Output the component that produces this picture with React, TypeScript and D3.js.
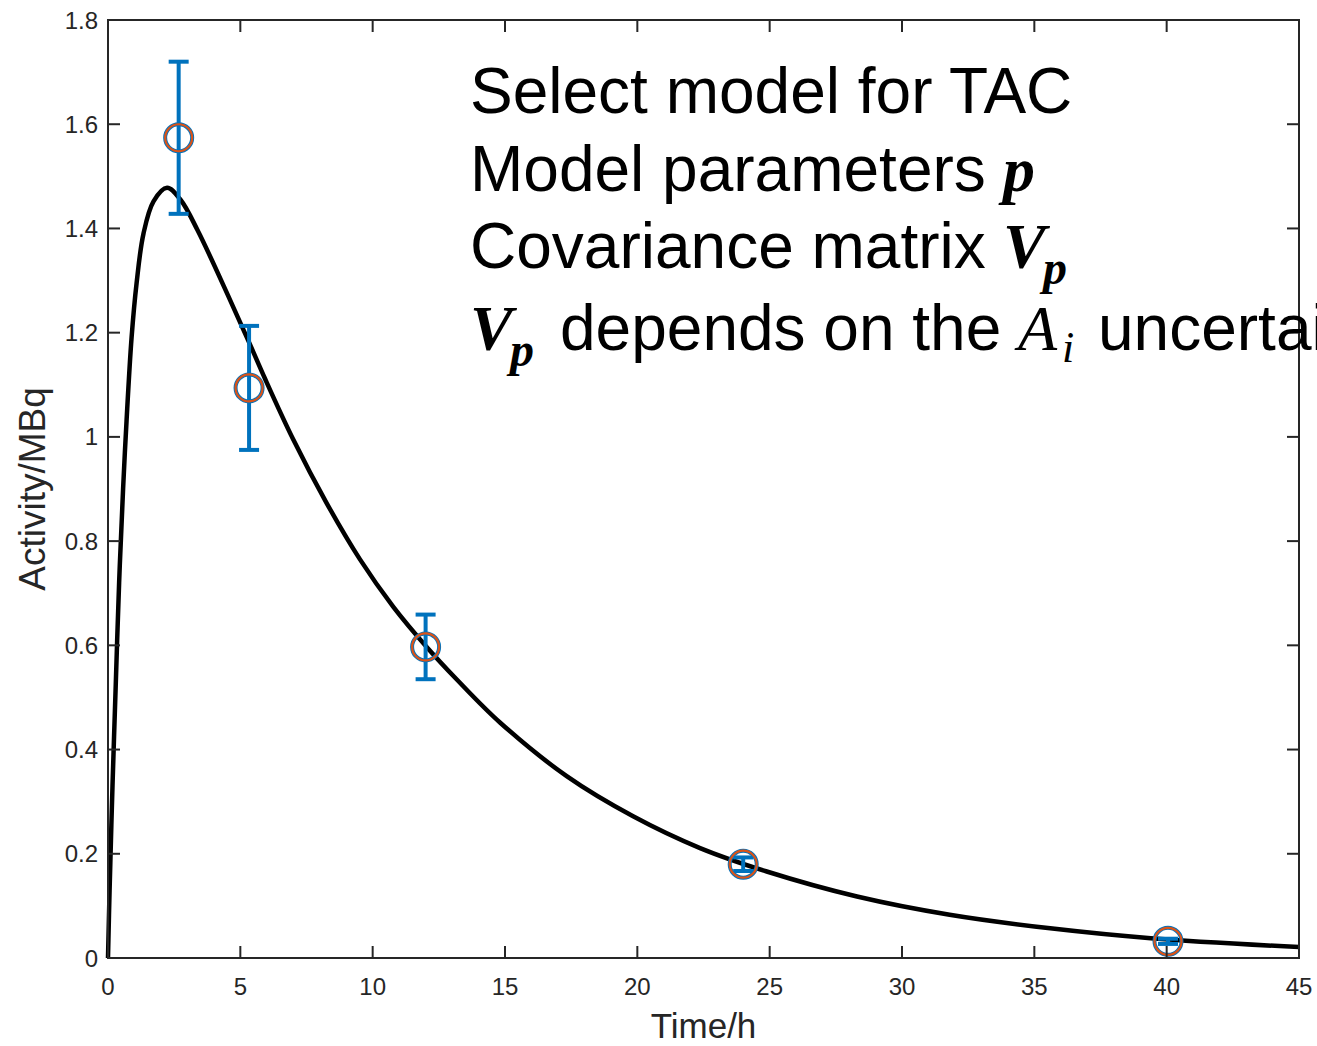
import React from "react";
import * as d3 from "d3";

// measured activities with their uncertainties
const sampleTimes = [2.67, 5.33, 12.0, 24.0, 40.05];
const sampleActivity = [1.574, 1.094, 0.597, 0.18, 0.032];
const sampleError = [0.146, 0.119, 0.062, 0.013, 0.005];

// fitted time-activity curve
const curveTimes = [
  0, 0.06, 0.17, 0.29, 0.42, 0.57, 0.7, 0.89, 1.08, 1.34, 1.72, 2.23, 2.74,
  3.38, 4.61, 5.36, 5.93, 7.0, 8.26, 9.52, 10.78, 12.04, 13.17, 14.81, 17.33,
  19.84, 22.37, 24.89, 28.3, 31.8, 35.6, 39.4, 45,
];
const curveActivity = [
  0, 0.13, 0.33, 0.52, 0.72, 0.9, 1.03, 1.19, 1.295, 1.39, 1.452, 1.478,
  1.455, 1.397, 1.263, 1.178, 1.112, 0.995, 0.873, 0.765, 0.674, 0.597, 0.535,
  0.452, 0.349, 0.272, 0.211, 0.166, 0.118, 0.083, 0.057, 0.038, 0.021,
];

const xTicks = [0, 5, 10, 15, 20, 25, 30, 35, 40, 45];
const yTicks = [0, 0.2, 0.4, 0.6, 0.8, 1, 1.2, 1.4, 1.6, 1.8];

const width = 1317;
const height = 1046;
const margin = { top: 20, right: 18, bottom: 88, left: 108 };

const axisColor = "#262626";
const blue = "#0072BD";
const orange = "#D95319";
const sans = "Liberation Sans, Arial, sans-serif";
const mathFont = "Liberation Serif, DejaVu Serif, serif";

export default function App() {
  const x = d3
    .scaleLinear()
    .domain([0, 45])
    .range([margin.left, width - margin.right]);
  const y = d3
    .scaleLinear()
    .domain([0, 1.8])
    .range([height - margin.bottom, margin.top]);

  const line = d3
    .line<number>()
    .x((d, i) => x(curveTimes[i]))
    .y((d) => y(d))
    .curve(d3.curveCatmullRom.alpha(0.5));

  const x0 = x(0);
  const x1 = x(45);
  const y0 = y(0);
  const y1 = y(1.8);
  const tickLen = 12;
  const cap = 10;

  return (
    <svg
      width={width}
      height={height}
      style={{ position: "absolute", left: 0, top: 0, background: "#fff" }}
      fontFamily={sans}
    >
      <rect x={0} y={0} width={width} height={height} fill="#fff" />

      {/* fitted curve */}
      <path
        d={line(curveActivity) || ""}
        fill="none"
        stroke="#000"
        strokeWidth={4.5}
        strokeLinejoin="round"
      />

      {/* error bars */}
      {sampleTimes.map((t, i) => {
        const cx = x(t);
        const top = y(sampleActivity[i] + sampleError[i]);
        const bot = y(sampleActivity[i] - sampleError[i]);
        return (
          <g key={"eb" + i} stroke={blue} strokeWidth={4} fill="none">
            <line x1={cx} x2={cx} y1={top} y2={bot} />
            <line x1={cx - cap} x2={cx + cap} y1={top} y2={top} />
            <line x1={cx - cap} x2={cx + cap} y1={bot} y2={bot} />
            <circle cx={cx} cy={y(sampleActivity[i])} r={13.5} strokeWidth={4} />
          </g>
        );
      })}
      {sampleTimes.map((t, i) => (
        <circle
          key={"pt" + i}
          cx={x(t)}
          cy={y(sampleActivity[i])}
          r={13.5}
          fill="none"
          stroke={orange}
          strokeWidth={2.2}
        />
      ))}

      {/* axes box */}
      <rect
        x={x0}
        y={y1}
        width={x1 - x0}
        height={y0 - y1}
        fill="none"
        stroke={axisColor}
        strokeWidth={2}
      />
      {xTicks.map((t) => (
        <g key={"xt" + t} stroke={axisColor} strokeWidth={2}>
          <line x1={x(t)} x2={x(t)} y1={y0} y2={y0 - tickLen} />
          <line x1={x(t)} x2={x(t)} y1={y1} y2={y1 + tickLen} />
        </g>
      ))}
      {yTicks.map((v) => (
        <g key={"yt" + v} stroke={axisColor} strokeWidth={2}>
          <line x1={x0} x2={x0 + tickLen} y1={y(v)} y2={y(v)} />
          <line x1={x1} x2={x1 - tickLen} y1={y(v)} y2={y(v)} />
        </g>
      ))}
      {xTicks.map((t) => (
        <text
          key={"xl" + t}
          x={x(t)}
          y={y0 + 37}
          textAnchor="middle"
          fontSize={24}
          fill={axisColor}
        >
          {t}
        </text>
      ))}
      {yTicks.map((v) => (
        <text
          key={"yl" + v}
          x={x0 - 10}
          y={y(v) + 8.5}
          textAnchor="end"
          fontSize={24}
          fill={axisColor}
        >
          {d3.format("~g")(v)}
        </text>
      ))}

      <text
        x={(x0 + x1) / 2}
        y={1038}
        textAnchor="middle"
        fontSize={35}
        fill={axisColor}
      >
        Time/h
      </text>
      <text
        transform={`translate(45, ${(y0 + y1) / 2}) rotate(-90)`}
        textAnchor="middle"
        fontSize={37}
        fill={axisColor}
      >
        Activity/MBq
      </text>

      {/* annotation */}
      <g fontSize={64} fill="#000">
        <text x={470} y={113}>Select model for TAC</text>
        <text x={470} y={191}>
          Model parameters
          <tspan x={1003} fontFamily={mathFont} fontWeight="bold" fontStyle="italic">
            p
          </tspan>
        </text>
        <text x={470} y={268}>
          Covariance matrix
          <tspan x={1003} fontFamily={mathFont} fontWeight="bold" fontStyle="italic">
            V
          </tspan>
          <tspan
            x={1043}
            dy={16}
            fontSize={48}
            fontFamily={mathFont}
            fontWeight="bold"
            fontStyle="italic"
          >
            p
          </tspan>
        </text>
        <text x={470} y={350}>
          <tspan fontFamily={mathFont} fontWeight="bold" fontStyle="italic">
            V
          </tspan>
          <tspan
            x={510}
            dy={16}
            fontSize={48}
            fontFamily={mathFont}
            fontWeight="bold"
            fontStyle="italic"
          >
            p
          </tspan>
          <tspan x={560} dy={-16}>
            depends on the
          </tspan>
          <tspan x={1018} fontFamily={mathFont} fontStyle="italic">
            A
          </tspan>
          <tspan x={1062} dy={12} fontSize={44} fontFamily={mathFont} fontStyle="italic">
            i
          </tspan>
          <tspan x={1098} dy={-12}>
            uncertainty
          </tspan>
        </text>
      </g>
    </svg>
  );
}
